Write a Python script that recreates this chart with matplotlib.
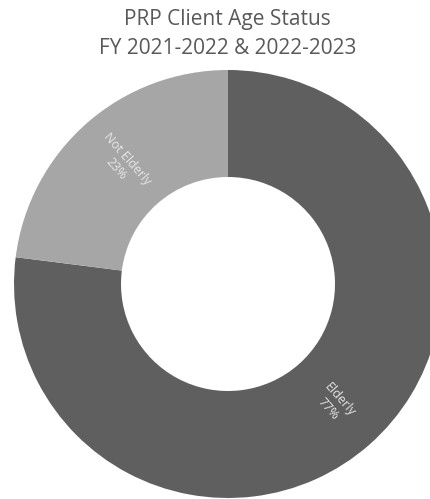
import matplotlib.pyplot as plt
import numpy as np

labels = ["Elderly", "Not Elderly"]
values = [77, 23]
colors = ["#5f5f5f", "#a6a6a6"]
title_lines = ["PRP Client Age Status", "FY 2021-2022 & 2022-2023"]

fig = plt.figure(figsize=(4.30, 4.99), dpi=100)

# title, one line at a time (baselines at ~25 px and ~54 px from the top)
for line, base in zip(title_lines, [25, 54]):
    fig.text(0.529, 1 - base / 499, line, ha="center", va="baseline",
             fontsize=15, color="#595959", family="Open Sans")

# donut axes, square box centred at (228, 284) px with radius 214 px
ax = fig.add_axes([14 / 430, 1 / 499, 428 / 430, 428 / 499])
wedges, _ = ax.pie(values, colors=colors, startangle=90, counterclock=False,
                   radius=1.0, wedgeprops=dict(width=0.5, linewidth=0))
ax.set_xlim(-1, 1)
ax.set_ylim(-1, 1)
ax.axis("off")

for w, lab, v in zip(wedges, labels, values):
    mid = (w.theta1 + w.theta2) / 2
    r = 0.75
    x = r * np.cos(np.radians(mid))
    y = r * np.sin(np.radians(mid))
    rot = mid if -90 <= mid <= 90 else mid - 180
    ax.text(x, y, f"{lab}\n{v}%", ha="center", va="center", rotation=rot,
            rotation_mode="anchor", fontsize=9, color="#e6e6e6",
            family="Open Sans", linespacing=1.2)

fig.savefig("out.png", dpi=100)
